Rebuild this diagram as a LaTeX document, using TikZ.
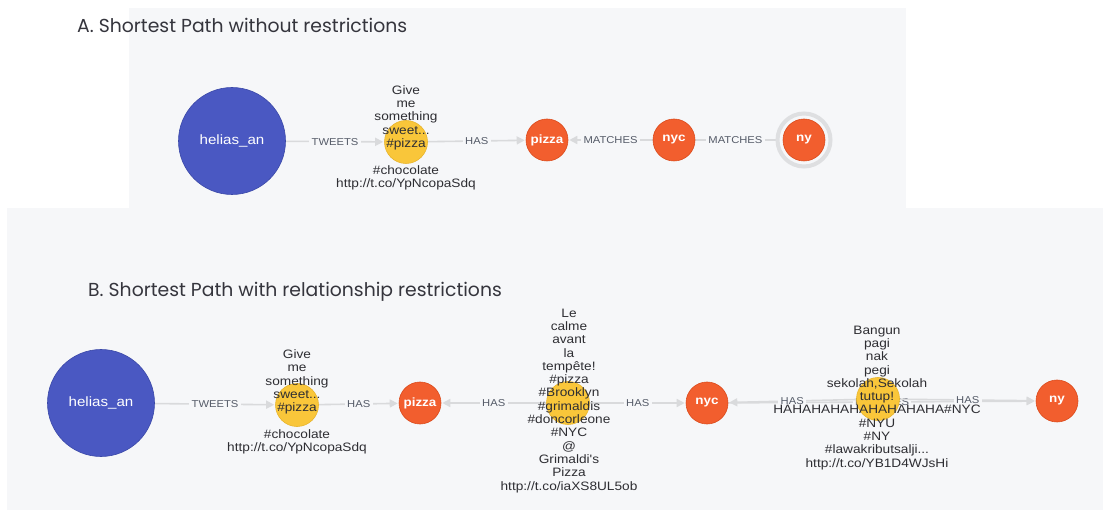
\documentclass[tikz,border=0pt]{standalone}
\usepackage{fontspec}
\usepackage{graphicx}
\usetikzlibrary{arrows.meta}
\newfontfamily\titlefont{Poppins}
\newfontfamily\labelfont[FakeStretch=1.12]{Liberation Sans}
\definecolor{panelbg}{HTML}{F6F7F9}
\definecolor{nodeblue}{HTML}{4A58C2}
\definecolor{nodeblueline}{HTML}{3A48A8}
\definecolor{nodeorange}{HTML}{F25E2E}
\definecolor{nodeorangeline}{HTML}{DB4B1C}
\definecolor{nodeyellow}{HTML}{F9C63A}
\definecolor{nodeyellowline}{HTML}{E8B52C}
\definecolor{relline}{HTML}{D9DADC}
\definecolor{reltext}{HTML}{555B68}
\definecolor{captext}{HTML}{2E2E33}
\definecolor{haloring}{HTML}{DEDFE1}
\definecolor{titletext}{HTML}{35353D}

\pgfdeclarelayer{panels}
\pgfdeclarelayer{edges}
\pgfdeclarelayer{captions}
\pgfsetlayers{panels,edges,main,captions}

\tikzset{
  user/.style={circle, fill=nodeblue, draw=nodeblueline, line width=0.6pt,
    minimum size=107pt, inner sep=0pt, text=white,
    font=\labelfont\fontsize{13.5}{15}\selectfont},
  tag/.style={circle, fill=nodeorange, draw=nodeorangeline, line width=0.6pt,
    minimum size=42pt, inner sep=0pt, text=white,
    font=\labelfont\bfseries\fontsize{12}{14}\selectfont},
  tweet/.style={circle, fill=nodeyellow, draw=nodeyellowline, line width=0.6pt,
    minimum size=43pt, inner sep=0pt},
  halo/.style={circle, fill=panelbg, draw=haloring, line width=4pt,
    minimum size=53pt, inner sep=0pt},
  caption/.style={align=center, text=captext, inner sep=0pt,
    font=\labelfont\fontsize{12.2}{13.3}\selectfont},
  rel/.style={draw=relline, line width=1.6pt,
    -{Triangle[length=8pt,width=8pt]}, shorten >=1pt},
  plainrel/.style={draw=relline, line width=1.6pt},
  rellabel/.style={fill=panelbg, text=reltext, inner sep=2.5pt,
    font=\labelfont\fontsize{10}{12}\selectfont},
  title/.style={anchor=west, text=titletext, inner sep=0pt,
    font=\titlefont\fontsize{18.8}{22}\selectfont},
}

\begin{document}
\begin{tikzpicture}[x=1pt,y=-1pt]
\useasboundingbox (0,0) rectangle (1103,510);

% panel backgrounds
\begin{pgfonlayer}{panels}
  \fill[panelbg] (129,8) rectangle (906,208);
  \fill[panelbg] (7,208) rectangle (1103,510);
\end{pgfonlayer}

% headings
\node[title] (titleA) at (77,25) {A. Shortest Path without restrictions};
\node[title] (titleB) at (88,292) {B. Shortest Path with relationship restrictions};

% ---- path A ----
\node[user] (aUser) at (232,141) {helias\_an};
\node[tweet] (aTweet) at (406,142) {};
\node[tag] (aPizza) at (547,140) {pizza};
\node[tag] (aNyc) at (674,140) {nyc};
\node[halo] (aHalo) at (804,140) {};
\node[tag] (aNy) at (804,140) {ny};

\begin{pgfonlayer}{edges}
  \draw[rel] (aUser) -- node[rellabel] (aL1) {TWEETS} (aTweet);
  \draw[rel] (aTweet) -- node[rellabel] (aL2) {HAS} (aPizza);
  \draw[rel] (aNyc) -- node[rellabel] (aL3) {MATCHES} (aPizza);
  \draw[plainrel] (aNyc) -- node[rellabel] (aL4) {MATCHES} (aHalo);
\end{pgfonlayer}

\begin{pgfonlayer}{captions}
  \node[caption] (aText) at (406,137.7)
    {Give\\me\\something\\sweet...\\\#pizza\\\mbox{}\\\#chocolate\\http://t.co/YpNcopaSdq};
\end{pgfonlayer}

% ---- path B ----
\node[user] (bUser) at (101,403) {helias\_an};
\node[tweet] (bTweet1) at (297,405) {};
\node[tag] (bPizza) at (420,403) {pizza};
\node[tweet] (bTweet2) at (568,403) {};
\node[tag] (bNyc) at (707,403) {nyc};
\node[tweet] (bTweet3) at (878,399) {};
\node[tag] (bNy) at (1057,401) {ny};

\begin{pgfonlayer}{edges}
  \draw[rel] (bNyc) -- node[rellabel] (bL0) {MATCHES} (bNy);
  \draw[rel] (bUser) -- node[rellabel] (bL1) {TWEETS} (bTweet1);
  \draw[rel] (bTweet1) -- node[rellabel] (bL2) {HAS} (bPizza);
  \draw[rel] (bTweet2) -- node[rellabel] (bL3) {HAS} (bPizza);
  \draw[rel] (bTweet2) -- node[rellabel] (bL4) {HAS} (bNyc);
  \draw[rel] (bTweet3) -- node[rellabel] (bL5) {HAS} (bNyc);
  \draw[rel] (bTweet3) -- node[rellabel] (bL6) {HAS} (bNy);
\end{pgfonlayer}

\begin{pgfonlayer}{captions}
  \node[caption] (bText1) at (297,402)
    {Give\\me\\something\\sweet...\\\#pizza\\\mbox{}\\\#chocolate\\http://t.co/YpNcopaSdq};
  \node[caption] (bText2) at (569,400.7)
    {Le\\calme\\avant\\la\\tempête!\\\#pizza\\\#Brooklyn\\\#grimaldis\\\#doncorleone\\\#NYC\\@\\Grimaldi's\\Pizza\\http://t.co/iaXS8UL5ob};
  \node[caption] (bText3) at (877,397.7)
    {Bangun\\pagi\\nak\\pegi\\sekolah,Sekolah\\tutup!\\HAHAHAHAHAHAHAHAHA\#NYC\\\#NYU\\\#NY\\\#lawakributsalji...\\http://t.co/YB1D4WJsHi};
\end{pgfonlayer}
\end{tikzpicture}
\end{document}
